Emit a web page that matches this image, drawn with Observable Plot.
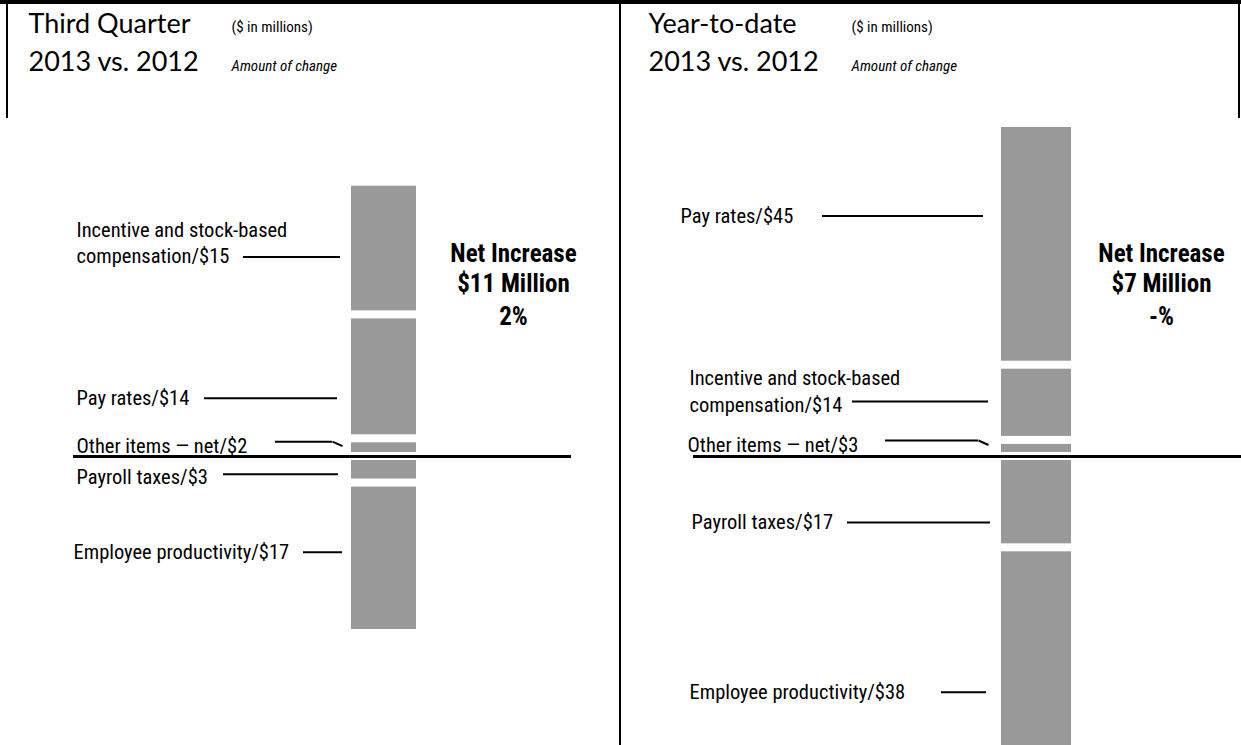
<!DOCTYPE html>
<html><head><meta charset="utf-8">
<script src="https://cdn.jsdelivr.net/npm/d3@7"></script>
<script src="https://cdn.jsdelivr.net/npm/@observablehq/plot@0.6"></script>
<style>
body{margin:0;background:#fff;}
#wrap{position:relative;width:1241px;height:745px;overflow:hidden;}
.panel{position:absolute;top:0;}
.rule{position:absolute;background:#000;}
</style></head>
<body><div id="wrap"></div>
<script>
// ---------------- data ----------------
const periodLabel = "2013 vs. 2012";
const unitsNote = "($ in millions)";
const changeNote = "Amount of change";

const q3Title = "Third Quarter";
const q3Categories = ["Incentive and stock-based\ncompensation", "Pay rates", "Other items — net", "Payroll taxes", "Employee productivity"];
const q3Values = [15, 14, 2, -3, -17];
const q3Net = ["Net Increase", "$11 Million", "2%"];

const ytdTitle = "Year-to-date";
const ytdCategories = ["Pay rates", "Incentive and stock-based\ncompensation", "Other items — net", "Payroll taxes", "Employee productivity"];
const ytdValues = [45, 14, 3, -17, -38];
const ytdNet = ["Net Increase", "$7 Million", "-%"];

// ---------------- layout (pixels / styles only) ----------------
const LABEL_FONT = "'Roboto Condensed', 'Open Sans', sans-serif";
const TITLE_FONT = "Lato, 'Open Sans', sans-serif";
const NET_BASELINES = [261, 291, 324];
const layouts = [
  { left: 0, width: 620, yDomain: [-32.66, 51.53], bar: [351, 416],
    textX: [76, 76, 76, 76, 73], textDy: [6, 7, 11, 10, 7], leaderDy: [8.5, 21.5, -6, 4.5, -6],
    lines: [[243, 340], [204, 337], [275, 332], [223, 338], [303, 342]],
    netX: 513, base: [73, 571], titleX: 28, subX: 231 },
  { left: 620, width: 621, yDomain: [-53.8, 84.9], bar: [381, 451],
    textX: [60, 69, 67, 71, 69], textDy: [7, 10, 12, 7, 7], leaderDy: [-28.4, -1.2, -8, 20.3, 42.3],
    lines: [[202, 363], [232, 368], [265, 358], [227, 370], [321, 366]],
    netX: 541, base: [73, 621], titleX: 28, subX: 231 }
];

// stack positives upward from the baseline (last listed nearest), negatives downward
function stackRows(categories, values) {
  const rows = categories.map((c, i) => ({category: c, value: values[i]}));
  let pos = 0, neg = 0;
  for (let i = rows.length - 1; i >= 0; --i) if (rows[i].value > 0) { rows[i].y1 = pos; pos += rows[i].value; rows[i].y2 = pos; }
  for (const r of rows) if (r.value < 0) { r.y1 = neg; neg += r.value; r.y2 = neg; }
  for (const r of rows) { r.mid = (r.y1 + r.y2) / 2; r.label = `${r.category}/$${Math.abs(r.value)}`; }
  return rows;
}

const bendSymbol = { draw(ctx) { ctx.moveTo(-5, -2); ctx.lineTo(5, 2.5); } };

function panel(title, categories, values, net, L) {
  const rows = stackRows(categories, values);
  const marks = [
    Plot.barY(rows, {x: () => title, y1: "y1", y2: "y2", insetTop: 4, insetBottom: 4, fill: "#999999"}),
    Plot.ruleY([0], {insetLeft: L.base[0], insetRight: L.width - L.base[1], stroke: "#000", strokeWidth: 3}),
    Plot.text([`${title}\n${periodLabel}`], {text: d => d, frameAnchor: "top-left", dx: L.titleX, dy: 70.5,
      lineAnchor: "bottom", textAnchor: "start", fontFamily: TITLE_FONT, fontSize: 27, lineHeight: 38.5 / 27, fill: "#000"}),
    Plot.text([unitsNote], {text: d => d, frameAnchor: "top-left", dx: L.subX, dy: 31, lineAnchor: "bottom",
      textAnchor: "start", fontFamily: LABEL_FONT, fontSize: 15, fill: "#000"}),
    Plot.text([changeNote], {text: d => d, frameAnchor: "top-left", dx: L.subX, dy: 70, lineAnchor: "bottom",
      textAnchor: "start", fontFamily: LABEL_FONT, fontSize: 15, fontStyle: "italic", fill: "#000"})
  ];
  net.forEach((line, j) => marks.push(
    Plot.text([line], {text: d => d, frameAnchor: "top-left", dx: L.netX, dy: NET_BASELINES[j], lineAnchor: "bottom",
      textAnchor: "middle", fontFamily: LABEL_FONT, fontWeight: "bold", fontSize: 25, fill: "#000"})
  ));
  rows.forEach((r, i) => {
    const [x1, x2] = L.lines[i];
    marks.push(
      Plot.ruleY([r], {y: "mid", dy: L.leaderDy[i], insetLeft: x1, insetRight: L.width - x2, stroke: "#000", strokeWidth: 2}),
      Plot.text([r], {y: "mid", text: "label", frameAnchor: "left", dx: L.textX[i], dy: L.leaderDy[i] + L.textDy[i],
        lineAnchor: "bottom", textAnchor: "start", fontFamily: LABEL_FONT, fontSize: 20.5, lineHeight: 26.5 / 20.5, fill: "#000"})
    );
    if (r.category.startsWith("Other")) {
      marks.push(Plot.dot([r], {y: "mid", frameAnchor: "left", dx: x2 + 5, dy: L.leaderDy[i] + 2,
        symbol: bendSymbol, stroke: "#000", fill: "none", strokeWidth: 2}));
    }
  });
  return Plot.plot({
    width: L.width, height: 745, margin: 0,
    x: {type: "band", domain: [title], range: L.bar, padding: 0, axis: null},
    y: {domain: L.yDomain, axis: null},
    style: {background: "transparent", overflow: "visible"},
    marks
  });
}

const wrap = document.getElementById("wrap");
[[q3Title, q3Categories, q3Values, q3Net], [ytdTitle, ytdCategories, ytdValues, ytdNet]].forEach((p, k) => {
  const L = layouts[k];
  const div = document.createElement("div");
  div.className = "panel";
  div.style.left = L.left + "px";
  div.appendChild(panel(...p, L));
  wrap.appendChild(div);
});
// frame lines
[[0, 0, 1241, 4], [6, 0, 2, 118], [619, 0, 2, 745], [1238, 0, 2, 118]].forEach(([l, t, w, h]) => {
  const d = document.createElement("div");
  d.className = "rule";
  Object.assign(d.style, {left: l + "px", top: t + "px", width: w + "px", height: h + "px"});
  wrap.appendChild(d);
});
</script>
</body></html>
